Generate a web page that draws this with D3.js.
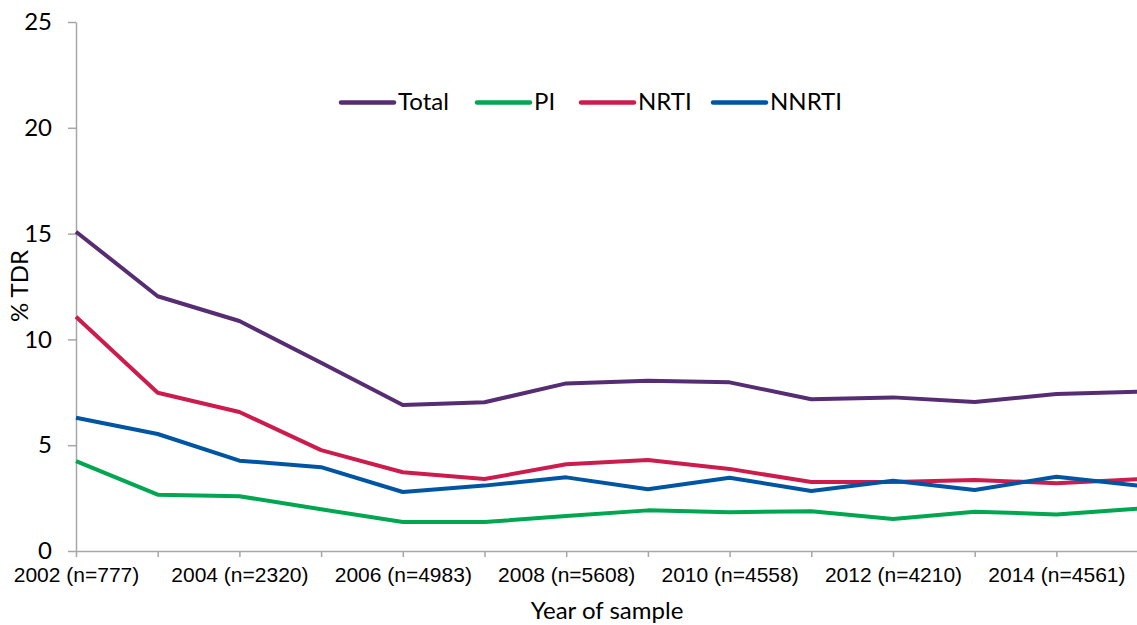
<!DOCTYPE html>
<html>
<head>
<meta charset="utf-8">
<script src="https://cdn.jsdelivr.net/npm/d3@7"></script>
<style>
  html, body { margin: 0; padding: 0; background: #fff; }
  svg { display: block; }
</style>
</head>
<body>
<svg id="chart" width="1137" height="625"></svg>
<script>
const years = [2002, 2003, 2004, 2005, 2006, 2007, 2008, 2009, 2010, 2011, 2012, 2013, 2014, 2015];
const tickLabels = ["2002 (n=777)", "", "2004 (n=2320)", "", "2006 (n=4983)", "", "2008 (n=5608)", "", "2010 (n=4558)", "", "2012 (n=4210)", "", "2014 (n=4561)", ""];
const seriesNames = ["Total", "PI", "NRTI", "NNRTI"];
const seriesColors = ["#562d72", "#00a650", "#cc1c4e", "#0055a3"];
const totalValues = [15.09, 12.04, 10.87, 8.90, 6.90, 7.03, 7.92, 8.05, 7.97, 7.17, 7.26, 7.04, 7.42, 7.53];
const piValues    = [4.25, 2.66, 2.59, 1.97, 1.37, 1.37, 1.65, 1.92, 1.83, 1.88, 1.51, 1.86, 1.73, 2.00];
const nrtiValues  = [11.07, 7.48, 6.57, 4.77, 3.72, 3.40, 4.10, 4.30, 3.88, 3.26, 3.26, 3.36, 3.20, 3.39];
const nnrtiValues = [6.30, 5.53, 4.27, 3.96, 2.79, 3.09, 3.48, 2.92, 3.46, 2.84, 3.32, 2.88, 3.51, 3.09];
const yTicks = [0, 5, 10, 15, 20, 25];

const seriesValues = [totalValues, piValues, nrtiValues, nnrtiValues];

const svg = d3.select("#chart");
const x = d3.scalePoint().domain(years).range([76, 1138.1]);
const y = d3.scaleLinear().domain([0, 25]).range([551, 22]);

const axisColor = "#a6a6a6";

// Y axis
const yAxis = svg.append("g").attr("transform", "translate(76,0)")
  .call(d3.axisLeft(y).tickValues(yTicks).tickSize(8).tickPadding(16).tickSizeOuter(0));
yAxis.select(".domain").attr("stroke", axisColor).attr("stroke-width", 1.5);
yAxis.selectAll(".tick line").attr("stroke", axisColor).attr("stroke-width", 1.5);
yAxis.selectAll(".tick text").attr("fill", "#000").attr("font-family", "Lato, 'Open Sans', sans-serif").attr("font-size", 24);

// X axis
const xAxis = svg.append("g").attr("transform", "translate(0,551)")
  .call(d3.axisBottom(x).tickSize(6).tickSizeOuter(0).tickPadding(10)
    .tickFormat((d, i) => tickLabels[i]));
xAxis.select(".domain").attr("stroke", axisColor).attr("stroke-width", 1.5);
xAxis.selectAll(".tick line").attr("stroke", axisColor).attr("stroke-width", 1.5);
xAxis.selectAll(".tick text").attr("fill", "#000").attr("font-family", "'Liberation Sans', Arial, sans-serif").attr("font-size", 21);

// Lines
const line = d3.line().x((d, i) => x(years[i])).y(d => y(d));
seriesValues.forEach((vals, k) => {
  svg.append("path").datum(vals)
    .attr("d", line)
    .attr("fill", "none")
    .attr("stroke", seriesColors[k])
    .attr("stroke-width", 4)
    .attr("stroke-linejoin", "round");
});

// Legend
const legendX = [341, 477, 581, 713];
const legend = svg.append("g");
seriesNames.forEach((name, k) => {
  legend.append("line")
    .attr("x1", legendX[k]).attr("x2", legendX[k] + 53)
    .attr("y1", 102.5).attr("y2", 102.5)
    .attr("stroke", seriesColors[k]).attr("stroke-width", 4.5).attr("stroke-linecap", "round");
  legend.append("text")
    .attr("x", legendX[k] + 57).attr("y", 110)
    .attr("font-family", "Lato, 'Open Sans', sans-serif").attr("font-size", 24)
    .attr("fill", "#000").text(name);
});

// Axis titles
svg.append("text")
  .attr("x", 607).attr("y", 619).attr("text-anchor", "middle")
  .attr("font-family", "Lato, 'Open Sans', sans-serif").attr("font-size", 24)
  .attr("fill", "#000").text("Year of sample");

svg.append("text")
  .attr("transform", "translate(28,286) rotate(-90)")
  .attr("text-anchor", "middle")
  .attr("font-family", "Lato, 'Open Sans', sans-serif").attr("font-size", 24)
  .attr("fill", "#000").text("% TDR");
</script>
</body>
</html>
